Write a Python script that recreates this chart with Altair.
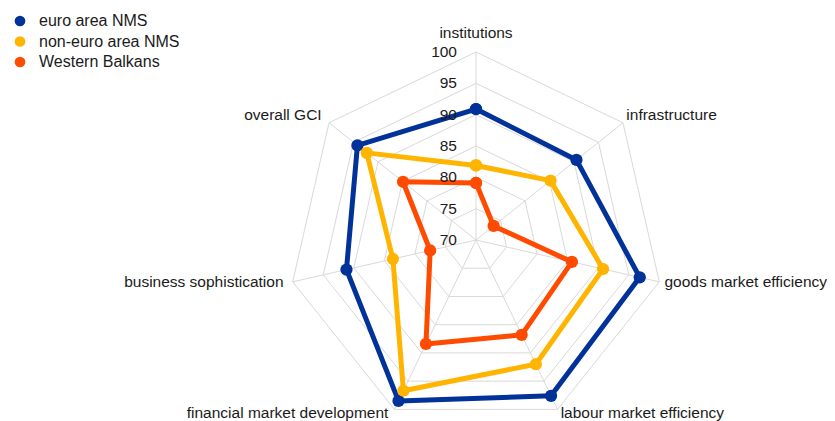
import math
import altair as alt
import pandas as pd

categories = ["institutions", "infrastructure", "goods market efficiency",
              "labour market efficiency", "financial market development",
              "business sophistication", "overall GCI"]
series_names = ["euro area NMS", "non-euro area NMS", "Western Balkans"]
euro_nms = [90.9, 90.5, 96.8, 97.6, 98.5, 91.2, 94.2]
non_euro_nms = [81.9, 85.2, 90.8, 92.0, 96.7, 83.6, 92.3]
western_balkans = [79.1, 73.6, 85.7, 86.8, 88.4, 77.5, 84.9]
ticks = [70, 75, 80, 85, 90, 95, 100]
colors = ["#003299", "#FFB400", "#FF4B00"]

R_MIN, R_MAX = 70, 100
N = len(categories)

rows = []
for name, vals in zip(series_names, [euro_nms, non_euro_nms, western_balkans]):
    for i in range(N + 1):
        rows.append({"series": name, "idx": i, "cat": categories[i % N], "value": vals[i % N]})
series_df = pd.DataFrame(rows)

grid_rows = []
for lv in ticks[1:]:
    for i in range(N + 1):
        grid_rows.append({"level": lv, "idx": i, "value": lv})
grid_df = pd.DataFrame(grid_rows)

spoke_df = pd.DataFrame({"idx": list(range(N)), "value": [R_MAX] * N})
cat_df = pd.DataFrame({"idx": list(range(N)), "cat": categories, "value": [R_MAX] * N})
tick_df = pd.DataFrame({"tick": ticks, "idx": [0] * len(ticks), "value": ticks})

W, H = 819, 413
CX, CY, RPX = 468, 232, 188
xs = alt.Scale(domain=[-CX / RPX, (W - CX) / RPX], nice=False, zero=False)
ys = alt.Scale(domain=[-(H - CY) / RPX, CY / RPX], nice=False, zero=False)


def polar(chart, rscale=1.0):
    return chart.transform_calculate(
        ang=f"datum.idx * 2 * PI / {N}",
        rr=f"(datum.value - {R_MIN}) / {R_MAX - R_MIN} * {rscale}",
    ).transform_calculate(
        x="datum.rr * sin(datum.ang)",
        y="datum.rr * cos(datum.ang)",
        x0="0",
        y0="0",
        side="sin(datum.ang)",
        vert="cos(datum.ang)",
    )


def X(f):
    return alt.X(f, type="quantitative", scale=xs, axis=None)


def Y(f):
    return alt.Y(f, type="quantitative", scale=ys, axis=None)


FONT = "Liberation Sans"
GRID = "#d9d9d9"
TXT = "#1a1a1a"

leg = alt.Legend(title=None, orient="none", legendX=4, legendY=5,
                 symbolType="circle", symbolSize=115, symbolStrokeWidth=0,
                 labelFontSize=16, labelFont=FONT, labelColor=TXT,
                 labelOffset=11, rowPadding=4.5, padding=0)

cscale = alt.Scale(domain=series_names, range=colors)

rings = polar(alt.Chart(grid_df)).mark_line(color=GRID, strokeWidth=1).encode(
    x=X("x"), y=Y("y"), detail="level:N", order="idx:Q")

spokes = polar(alt.Chart(spoke_df)).mark_rule(color=GRID, strokeWidth=1).encode(
    x=X("x0"), y=Y("y0"), x2="x:Q", y2="y:Q")

points = polar(alt.Chart(series_df)).mark_point(filled=True, size=150, opacity=1).encode(
    x=X("x"), y=Y("y"),
    color=alt.Color("series:N", scale=cscale, sort=series_names, legend=leg))

lines = polar(alt.Chart(series_df)).mark_line(strokeWidth=5, strokeJoin="round").encode(
    x=X("x"), y=Y("y"),
    color=alt.Color("series:N", scale=cscale, sort=series_names, legend=leg),
    order="idx:Q")

tick_labels = polar(alt.Chart(tick_df)).mark_text(
    align="right", baseline="middle", dx=-19, fontSize=15.5, font=FONT, color=TXT).encode(
    x=X("x"), y=Y("y"), text=alt.Text("tick:Q", format="d"))

cat_base = polar(alt.Chart(cat_df), 1.05)
txt = dict(baseline="middle", fontSize=15.5, font=FONT, color=TXT)

cat_left = cat_base.transform_filter("datum.side > 0.1 && datum.vert > -0.8").mark_text(
    align="left", dy=-2, dx=-4, **txt).encode(x=X("x"), y=Y("y"), text="cat:N")
cat_right = cat_base.transform_filter("datum.side < -0.1 && datum.vert > -0.8").mark_text(
    align="right", dy=-2, **txt).encode(x=X("x"), y=Y("y"), text="cat:N")
cat_bl = cat_base.transform_filter("datum.side > 0.1 && datum.vert <= -0.8").mark_text(
    align="left", dy=-5, dx=-1, **txt).encode(x=X("x"), y=Y("y"), text="cat:N")
cat_br = cat_base.transform_filter("datum.side < -0.1 && datum.vert <= -0.8").mark_text(
    align="right", dy=-5, dx=-2, **txt).encode(x=X("x"), y=Y("y"), text="cat:N")
cat_top = cat_base.transform_filter("abs(datum.side) <= 0.1").mark_text(
    align="center", dy=-10, **txt).encode(x=X("x"), y=Y("y"), text="cat:N")

chart = alt.layer(rings, spokes, lines, points, tick_labels,
                  cat_left, cat_right, cat_bl, cat_br, cat_top).properties(
    width=W, height=H, autosize=alt.AutoSizeParams(type="none"), padding=0
).configure_view(stroke=None)

chart.save("out.html", embed_options={"renderer": "svg", "actions": False})
